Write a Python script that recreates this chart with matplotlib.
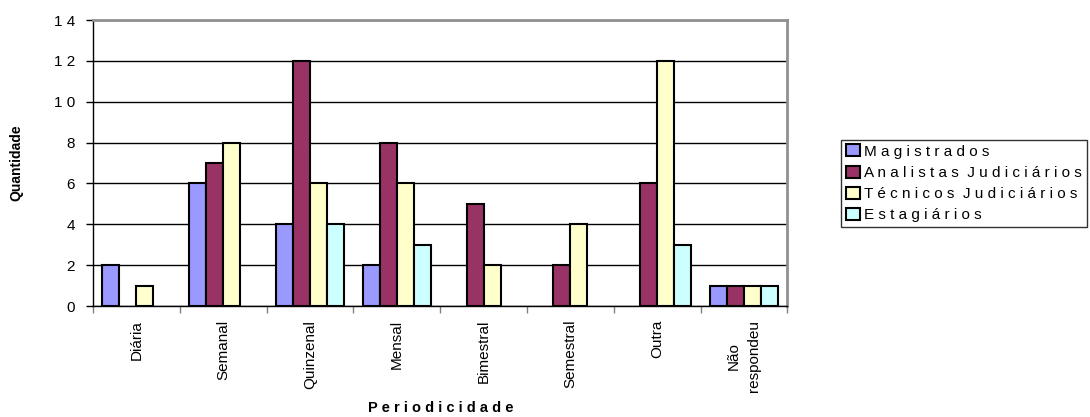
import matplotlib
matplotlib.use("Agg")
import matplotlib.pyplot as plt
import numpy as np

# dados do grafico
categorias = ["Diária", "Semanal", "Quinzenal", "Mensal", "Bimestral",
              "Semestral", "Outra", "Não\nrespondeu"]
magistrados = [2, 6, 4, 2, 0, 0, 0, 1]
analistas = [0, 7, 12, 8, 5, 2, 6, 1]
tecnicos = [1, 8, 6, 6, 2, 4, 12, 1]
estagiarios = [0, 0, 4, 3, 0, 0, 3, 1]
series = ["M a g i s t r a d o s", "A n a l i s t a s  J u d i c i á r i o s",
          "T é c n i c o s  J u d i c i á r i o s", "E s t a g i á r i o s"]
cores = ["#9999FF", "#993366", "#FFFFCC", "#CCFFFF"]
yticks = [0, 2, 4, 6, 8, 10, 12, 14]
ylabels = ["0", "2", "4", "6", "8", "1 0", "1 2", "1 4"]

plt.rcParams['font.family'] = ['Liberation Sans', 'DejaVu Sans']

fig = plt.figure(figsize=(10.9, 4.17), dpi=100)
ax = fig.add_axes([0.0853, 0.266, 0.637, 0.686])

x = np.arange(len(categorias))
w = 0.196
valores = [magistrados, analistas, tecnicos, estagiarios]
for i, v in enumerate(valores):
    # zero nao desenha barra
    v = np.array(v, dtype=float)
    v[v == 0] = np.nan
    ax.bar(x + (i - 1.5) * w, v, w, color=cores[i], edgecolor="black",
           linewidth=1.5, label=series[i], zorder=3)

ax.set_xlim(-0.5, len(categorias) - 0.5)
ax.set_ylim(0, 14)
ax.set_yticks(yticks)
ax.set_yticklabels(ylabels, fontsize=11)
ax.yaxis.grid(True, color="black", linewidth=1, zorder=0)

ax.set_xticks(x)
ax.set_xticklabels(categorias, rotation=90, fontsize=11, va="top", linespacing=1.5)
ax.set_xticks(np.arange(len(categorias) + 1) - 0.5, minor=True)
ax.tick_params(axis="x", which="major", length=0, pad=10)
ax.tick_params(axis="x", which="minor", length=5, color="#808080", width=1)
ax.tick_params(axis="y", length=5, width=1, pad=8)

for s in ["top", "right"]:
    ax.spines[s].set_color("#909090")
    ax.spines[s].set_linewidth(2)
ax.spines["left"].set_linewidth(1)
ax.spines["bottom"].set_linewidth(1)

ax.set_ylabel("Quantidade", fontsize=10, fontweight="bold", labelpad=22)
fig.text(0.404, 0.022, "P e r i o d i c i d a d e", fontsize=10.5,
         fontweight="bold", ha="center", va="center")

leg = fig.legend(loc="upper left", bbox_to_anchor=(0.772, 0.665), fontsize=11,
                 frameon=True, fancybox=False, edgecolor="black",
                 handlelength=0.9, handleheight=0.85, handletextpad=0.3,
                 labelspacing=0.45, borderpad=0.3, borderaxespad=0)
leg.get_frame().set_linewidth(1)

fig.savefig("out.png", dpi=100)
